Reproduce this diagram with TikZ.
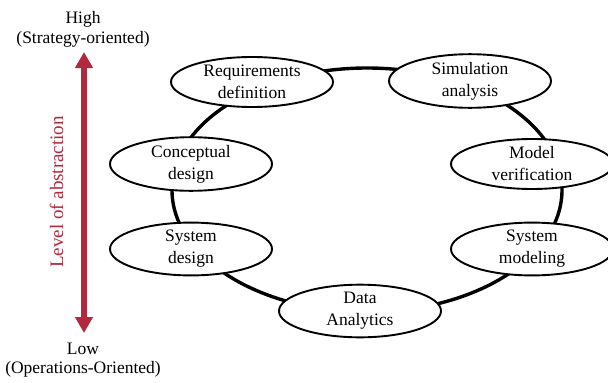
\documentclass[tikz,border=0pt]{standalone}
\usepackage{fontspec}
\setmainfont{Liberation Serif}
\usetikzlibrary{shapes.geometric,arrows.meta}
\definecolor{abstred}{RGB}{178,40,60}
\begin{document}
\begin{tikzpicture}[x=1pt,y=-1pt,
  stage/.style={ellipse,draw=black,line width=1.9pt,fill=white,minimum width=162pt,minimum height=50pt,inner sep=0pt,align=center,font=\fontsize{17.5}{22}\selectfont},
  plain/.style={align=center,inner sep=0pt,font=\fontsize{17.5}{20}\selectfont},
  loop/.style={line width=3.4pt,draw=black}]
\useasboundingbox (0,0) rectangle (608,383);
% cycle
\draw[loop] (367,190) ellipse [x radius=195pt, y radius=122pt];
% stages
\node[stage] (req) at (252,82) {Requirements\\definition};
\node[stage] (sim) at (470,81) {Simulation\\analysis};
\node[stage] (con) at (191,164) {Conceptual\\design};
\node[stage] (mod) at (532,164) {Model\\verification};
\node[stage] (sysd) at (191,249) {System\\design};
\node[stage] (sysm) at (532,249) {System\\modeling};
\node[stage] (data) at (360,311) {Data\\Analytics};
% abstraction axis
\coordinate (atop) at (84,52);
\coordinate (abot) at (84,333);
\draw[abstred,line width=6pt,{Triangle[width=17pt,length=16pt]}-{Triangle[width=17pt,length=16pt]}] (atop) -- (abot);
\node[plain,anchor=base] (high) at (83,23) {High};
\node[plain,anchor=base] (strat) at (83,43) {(Strategy-oriented)};
\node[plain,anchor=base] (low) at (83,354) {Low};
\node[plain,anchor=base] (oper) at (83,373) {(Operations-Oriented)};
\node[abstred,rotate=90,anchor=base,inner sep=0pt,font=\fontsize{19}{22}\selectfont] (lvl) at (63,192) {Level of abstraction};
\end{tikzpicture}
\end{document}
